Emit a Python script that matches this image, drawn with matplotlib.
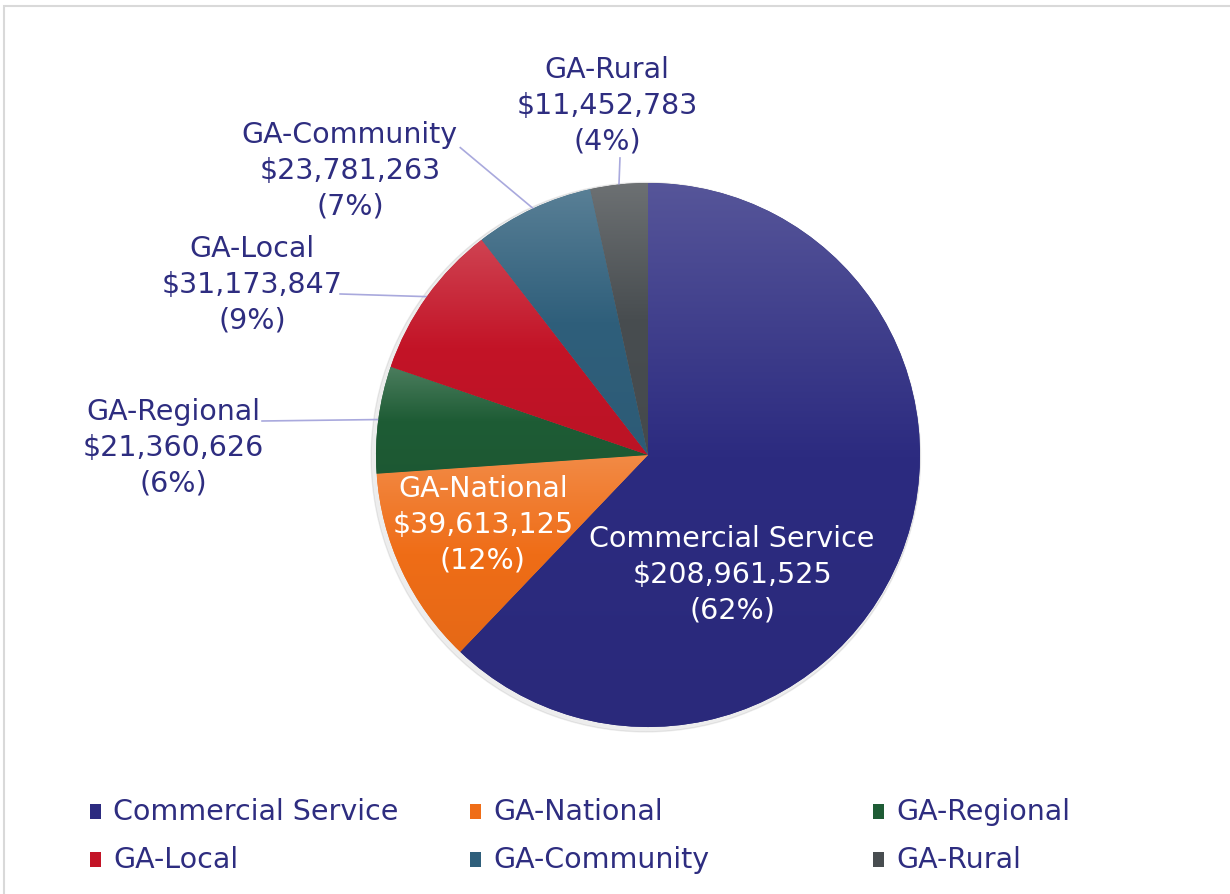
import matplotlib.pyplot as plt
import numpy as np
from matplotlib.colors import to_rgb
from matplotlib.patches import Rectangle, Circle

# data
categories = ['Commercial Service', 'GA-National', 'GA-Regional',
              'GA-Local', 'GA-Community', 'GA-Rural']
values = [208961525, 39613125, 21360626, 31173847, 23781263, 11452783]
percents = [62, 12, 6, 9, 7, 4]  # as printed on the chart
colors = ['#2C2B80', '#EF6D17', '#1E5C35', '#C31427', '#2F5F7B', '#484D50']

TEXT = '#2E2D80'
LEADER = '#A9A9DD'
FS = 20.5

W, H = 1230, 894
fig = plt.figure(figsize=(W / 100, H / 100), dpi=100)

# frame (top and left edges visible)
fig.add_artist(Rectangle((4 / W, -0.1), 1.2, (H - 6) / H + 0.1, transform=fig.transFigure,
                         fill=False, edgecolor='#D9D9D9', linewidth=1.5))

# pie axes: centre (648, 455) px, radius 272 px
R, half = 272, 300
cx, cy = 648, H - 455
ax = fig.add_axes([(cx - half) / W, (cy - half) / H, 2 * half / W, 2 * half / H])

# faint shadow
ax.add_patch(Circle((-0.008, -0.008), 1.01, color='#000000', alpha=0.07, zorder=0))

wedges, _ = ax.pie(values, colors=colors, startangle=90, counterclock=False,
                   radius=1, wedgeprops=dict(linewidth=0))


def shade(c, f):
    c = np.array(to_rgb(c))
    return c + (1 - c) * f if f > 0 else c * (1 + f)


# vertical gradient inside each wedge
for w, c in zip(wedges, colors):
    v = w.get_path().vertices
    y0, y1 = v[:, 1].min(), v[:, 1].max()
    x0, x1 = v[:, 0].min(), v[:, 0].max()
    t = np.linspace(0, 1, 256)[:, None]
    top, base, bot = shade(c, 0.2), shade(c, 0.0), shade(c, -0.04)
    grad = np.where(t < 0.5, top + (base - top) * (t / 0.5),
                    base + (bot - base) * ((t - 0.5) / 0.5))
    img = np.repeat(grad[:, None, :], 2, axis=1)
    im = ax.imshow(img, extent=[x0, x1, y0, y1], origin='upper', aspect='auto',
                   zorder=w.get_zorder() + 0.1, interpolation='bilinear')
    im.set_clip_path(w)

ax.set_xlim(-half / R, half / R)
ax.set_ylim(-half / R, half / R)
ax.set_aspect('equal')
ax.axis('off')

labels = [f'{n}\n${v:,.0f}\n({p}%)' for n, v, p in zip(categories, values, percents)]

# label layout: (text centre, leader end or None, inside?)
layout = [
    ((0.309, -0.441), None, True),
    ((-0.607, -0.257), None, True),
    ((-1.746, 0.026), (-1.419, 0.125), False),
    ((-1.456, 0.625), (-1.132, 0.592), False),
    ((-1.096, 1.044), (-0.690, 1.130), False),
    ((-0.151, 1.283), (-0.103, 1.092), False),
]

for w, lab, (pos, lead, inside) in zip(wedges, labels, layout):
    ax.text(pos[0], pos[1], lab, ha='center', va='center', fontsize=FS,
            color='white' if inside else TEXT, linespacing=1.35, zorder=5)
    if lead is not None:
        mid = np.deg2rad((w.theta1 + w.theta2) / 2)
        ax.plot([np.cos(mid), lead[0]], [np.sin(mid), lead[1]], color=LEADER,
                linewidth=1.2, zorder=1, clip_on=False)

# legend (manual grid)
col_x = [90, 470, 873]
row_y = [812, 860]
for i, (name, c) in enumerate(zip(categories, colors)):
    x, y = col_x[i % 3], H - row_y[i // 3]
    fig.add_artist(Rectangle((x / W, (y - 7) / H), 11 / W, 15 / H,
                             transform=fig.transFigure, facecolor=c, edgecolor='none'))
    fig.text((x + 23) / W, y / H, name, ha='left', va='center', fontsize=FS, color=TEXT)

fig.savefig('out.png', dpi=100)
